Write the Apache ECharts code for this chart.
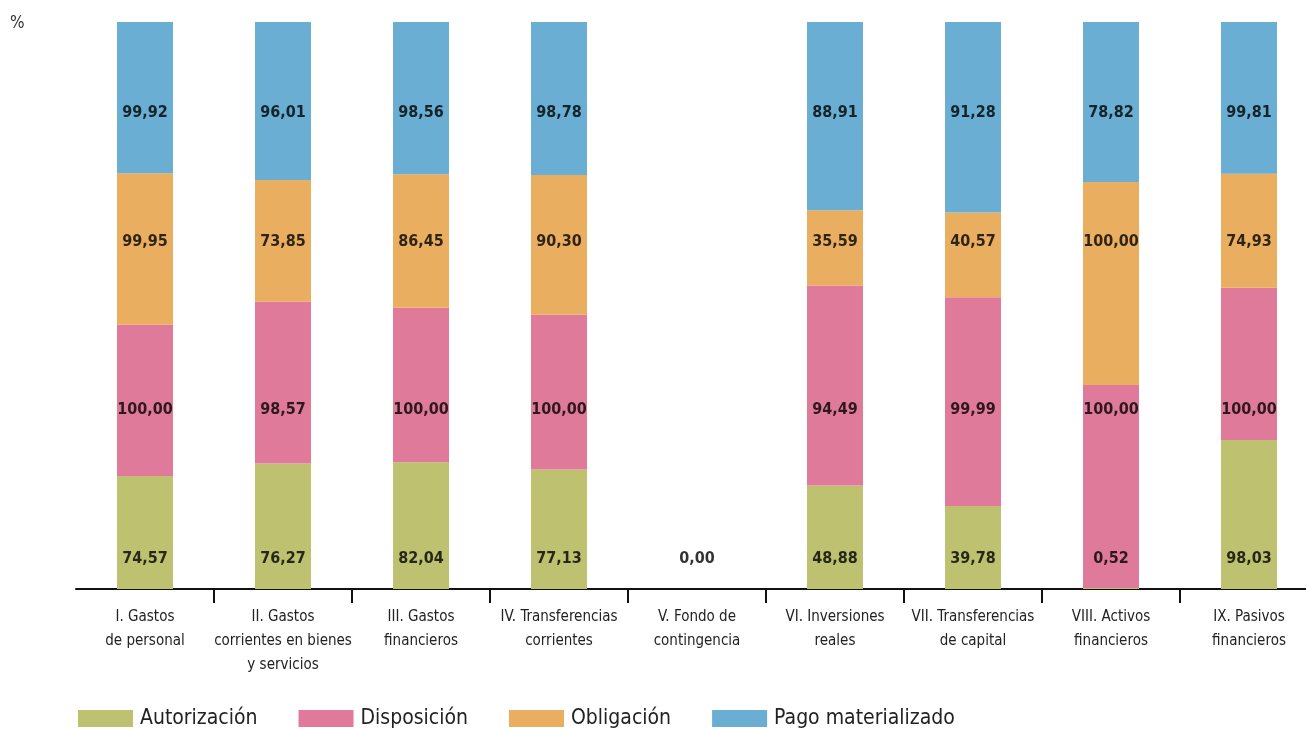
<!DOCTYPE html>
<html><head><meta charset="utf-8">
<script src="https://cdn.jsdelivr.net/npm/echarts@6/dist/echarts.min.js"></script>
<style>html,body{margin:0;padding:0;background:#fff}#c{width:1306px;height:729px}</style>
</head><body><div id="c"></div>
<script>
const categories = ["I. Gastos\nde personal","II. Gastos\ncorrientes en bienes\ny servicios","III. Gastos\nfinancieros","IV. Transferencias\ncorrientes","V. Fondo de\ncontingencia","VI. Inversiones\nreales","VII. Transferencias\nde capital","VIII. Activos\nfinancieros","IX. Pasivos\nfinancieros"];
const seriesNames = ["Autorización","Disposición","Obligación","Pago materializado"];
const autorizacion = [74.57,76.27,82.04,77.13,0.00,48.88,39.78,0.52,98.03];
const disposicion = [100.00,98.57,100.00,100.00,0.00,94.49,99.99,100.00,100.00];
const obligacion = [99.95,73.85,86.45,90.30,0.00,35.59,40.57,100.00,74.93];
const pago = [99.92,96.01,98.56,98.78,0.00,88.91,91.28,78.82,99.81];

const colors = ["#BEC16F","#E07A9A","#E9AE5F","#6AAFD3"];
const labelLevels = [5.29,31.57,61.2,83.95];
const FONT = "'Liberation Sans Narrow','DejaVu Sans Condensed','Roboto',sans-serif";

const raw = [autorizacion,disposicion,obligacion,pago];
const totals = categories.map((_,i)=>raw.reduce((s,a)=>s+a[i],0));
const fmt = v => v.toFixed(2).replace('.',',');

const series = [];
raw.forEach((arr,k)=>{
  series.push({
    name: seriesNames[k], type:'bar', stack:'total', barWidth:56,
    itemStyle:{color:colors[k]},
    data: arr.map((v,i)=> totals[i] ? v/totals[i]*100 : 0)
  });
});
raw.forEach((arr,k)=>{
  series.push({
    type:'scatter', symbolSize:0, silent:true, z:10,
    data: arr.map((v,i)=>({value:[i,labelLevels[k]], raw:v, show: totals[i]>0 || k===0}))
      .filter(d=>d.show).map(d=>({value:d.value, label:{formatter:fmt(d.raw)}})),
    label:{show:true, position:'inside', color:'#000', fontSize:16, fontWeight:'bold', fontFamily:FONT}
  });
});

const chart = echarts.init(document.getElementById('c'));
chart.setOption({
  animation:false,
  color: colors,
  graphic:[{type:'text', left:10, top:15, style:{text:'%', fontSize:17, fill:'#333', fontFamily:FONT}}],
  legend:{
    data: seriesNames, left:73, top:703, itemWidth:55, itemHeight:17, itemGap:41,
    icon:'rect', textStyle:{fontSize:21, color:'#222', fontFamily:FONT, padding:[0,0,0,2]}
  },
  grid:{left:76, top:22, width:1242, height:567, outerBoundsMode:'none', containLabel:false},
  xAxis:{
    type:'category', data:categories,
    axisLine:{lineStyle:{color:'#111', width:2}},
    axisTick:{show:true, length:14, lineStyle:{color:'#111', width:2}, interval:(i)=>i>0},
    axisLabel:{fontSize:15, color:'#222', lineHeight:24, margin:16, fontFamily:FONT, interval:0}
  },
  yAxis:{type:'value', min:0, max:100, show:false},
  series
});
</script></body></html>
